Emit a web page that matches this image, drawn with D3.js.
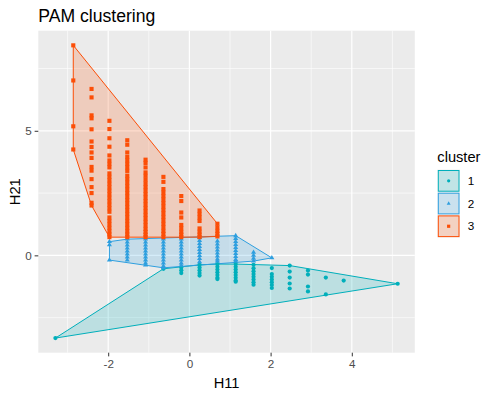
<!DOCTYPE html>
<html>
<head>
<meta charset="utf-8">
<script src="https://cdn.jsdelivr.net/npm/d3@7"></script>
<style>
  body { margin: 0; background: #fff; }
  text { font-family: "Liberation Sans", Arial, sans-serif; }
</style>
</head>
<body>
<script>
// H11 / H21 values, one entry per column of points
var cluster1 = [
    [-3.30, [-3.32]],
    [-0.64, [-0.54]],
    [-0.20, [-0.49, -0.60, -0.71]],
    [0.25, [-0.38, -0.49, -0.60, -0.71, -0.81]],
    [0.69, [-0.35, -0.46, -0.57, -0.68, -0.79, -0.90, -0.95]],
    [1.14, [-0.35, -0.46, -0.57, -0.68, -0.79, -0.90, -1.01, -1.06]],
    [1.58, [-0.38, -0.52, -0.64, -0.75, -0.86, -0.97, -1.08, -1.18]],
    [2.03, [-0.51, -0.75, -0.86, -0.97, -1.08, -1.19, -1.31]],
    [2.47, [-0.41, -0.65, -0.89, -1.13, -1.33]],
    [2.92, [-0.61, -0.77, -1.25, -1.45]],
    [3.36, [-0.89, -1.57]],
    [3.80, [-1.01]],
    [5.13, [-1.14]]
];
var cluster2 = [
    [-1.97, [0.55, 0.42, -0.19]],
    [-1.53, [0.65, 0.53, 0.41, 0.29, 0.17, 0.05, -0.07, -0.19]],
    [-1.08, [0.65, 0.53, 0.41, 0.29, 0.17, 0.05, -0.07, -0.19, -0.31, -0.39]],
    [-0.64, [0.65, 0.53, 0.41, 0.29, 0.17, 0.05, -0.07, -0.19, -0.31, -0.43, -0.50]],
    [-0.20, [0.65, 0.53, 0.41, 0.29, 0.17, 0.05, -0.07, -0.19, -0.31, -0.40]],
    [0.25, [0.71, 0.59, 0.47, 0.35, 0.23, 0.11, -0.01, -0.13, -0.26]],
    [0.69, [0.57, 0.45, 0.33, 0.21, 0.09, -0.03, -0.15, -0.23]],
    [1.14, [0.79, 0.67, 0.55, 0.43, 0.31, 0.19, 0.07, -0.05, -0.17, -0.23]],
    [1.58, [0.12, 0.00, -0.12, -0.23]],
    [2.03, [-0.10]]
];
var cluster3 = [
    [-2.86, [8.43, 7.02, 5.18, 4.25]],
    [-2.41, [6.68, 6.34, 5.62, 5.50, 5.06, 4.57, 4.35, 4.13, 3.91, 3.55, 3.40, 3.06, 2.74, 2.50, 2.11, 2.00]],
    [-1.97, [5.40, 5.07, 4.70, 4.36, 4.01, 3.81, 3.67, 3.53, 3.29, 3.15, 3.01, 2.87, 2.73, 2.59, 2.45, 2.31, 2.17, 2.03, 1.89, 1.75, 1.52, 1.38, 1.24, 1.10, 0.96, 0.84, 0.73]],
    [-1.53, [4.62, 4.44, 4.13, 3.95, 3.81, 3.67, 3.53, 3.39, 3.20, 3.06, 2.92, 2.78, 2.64, 2.50, 2.36, 2.22, 2.08, 1.94, 1.80, 1.66, 1.52, 1.38, 1.24, 1.10, 0.96, 0.84, 0.73]],
    [-1.08, [3.84, 3.71, 3.53, 3.33, 3.19, 3.03, 2.88, 2.74, 2.60, 2.46, 2.32, 2.18, 2.04, 1.90, 1.76, 1.62, 1.48, 1.34, 1.20, 1.06, 0.94, 0.83, 0.73]],
    [-0.64, [3.15, 2.95, 2.66, 2.52, 2.38, 2.24, 2.10, 1.96, 1.82, 1.68, 1.54, 1.40, 1.26, 1.12, 0.98, 0.86, 0.73]],
    [-0.20, [2.38, 2.18, 1.72, 1.52, 1.22, 1.08, 0.94, 0.83, 0.73]],
    [0.25, [1.80, 1.66, 1.52, 1.38, 1.08, 0.95, 0.83, 0.73]],
    [0.69, [1.27, 1.12, 0.98, 0.86, 0.76]]
];
var clusterNames = ["1", "2", "3"];
var xTicks = [-2, 0, 2, 4];
var yTicks = [0, 5];

var colours = ["#00AFBB", "#2E9FDF", "#FC4E07"];
var shapes = [d3.symbolCircle, d3.symbolTriangle, d3.symbolSquare];
var shapeSize = [14, 11, 17];

var width = 493, height = 398;
var panel = {left: 38.3, top: 30.7, right: 414.8, bottom: 352.7};

// flatten columns into points
var groups = [cluster1, cluster2, cluster3].map(function(cols, i) {
    var pts = [];
    cols.forEach(function(c) {
        c[1].forEach(function(v) { pts.push({h11: c[0], h21: v, cluster: i}); });
    });
    return pts;
});
var all = d3.merge(groups);

function expand(ext) {
    var pad = (ext[1] - ext[0]) * 0.05;
    return [ext[0] - pad, ext[1] + pad];
}
var x = d3.scaleLinear().domain(expand(d3.extent(all, function(d) { return d.h11; })))
    .range([panel.left, panel.right]);
var y = d3.scaleLinear().domain(expand(d3.extent(all, function(d) { return d.h21; })))
    .range([panel.bottom, panel.top]);

var svg = d3.select("body").append("svg").attr("width", width).attr("height", height);

svg.append("rect").attr("x", panel.left).attr("y", panel.top)
    .attr("width", panel.right - panel.left).attr("height", panel.bottom - panel.top)
    .attr("fill", "#EBEBEB");

// grid
var xMinor = [-3, -1, 1, 3, 5], yMinor = [-2.5, 2.5, 7.5];
var grid = svg.append("g");
grid.selectAll(".vmin").data(xMinor).enter().append("line")
    .attr("x1", x).attr("x2", x).attr("y1", panel.top).attr("y2", panel.bottom)
    .attr("stroke", "#fff").attr("stroke-width", 0.6);
grid.selectAll(".hmin").data(yMinor).enter().append("line")
    .attr("y1", y).attr("y2", y).attr("x1", panel.left).attr("x2", panel.right)
    .attr("stroke", "#fff").attr("stroke-width", 0.6);
grid.selectAll(".vmaj").data(xTicks).enter().append("line")
    .attr("x1", x).attr("x2", x).attr("y1", panel.top).attr("y2", panel.bottom)
    .attr("stroke", "#fff").attr("stroke-width", 1.2);
grid.selectAll(".hmaj").data(yTicks).enter().append("line")
    .attr("y1", y).attr("y2", y).attr("x1", panel.left).attr("x2", panel.right)
    .attr("stroke", "#fff").attr("stroke-width", 1.2);

// convex hulls
groups.forEach(function(pts, i) {
    var hull = d3.polygonHull(pts.map(function(d) { return [x(d.h11), y(d.h21)]; }));
    svg.append("path").attr("d", "M" + hull.join("L") + "Z")
        .attr("fill", colours[i]).attr("fill-opacity", 0.2)
        .attr("stroke", colours[i]).attr("stroke-width", 1);
});

// points
groups.forEach(function(pts, i) {
    svg.append("g").selectAll("path").data(pts).enter().append("path")
        .attr("d", d3.symbol().type(shapes[i]).size(shapeSize[i]))
        .attr("transform", function(d) { return "translate(" + x(d.h11) + "," + y(d.h21) + ")"; })
        .attr("fill", colours[i]);
});

// axes (plain hyphen for negatives, like R)
var fmt = function(d) { return String(d); };
var xAxis = svg.append("g").attr("transform", "translate(0," + panel.bottom + ")")
    .call(d3.axisBottom(x).tickValues(xTicks).tickFormat(fmt).tickSize(3.67).tickPadding(2.9));
var yAxis = svg.append("g").attr("transform", "translate(" + panel.left + ",0)")
    .call(d3.axisLeft(y).tickValues(yTicks).tickFormat(fmt).tickSize(3.67).tickPadding(2.9));
[xAxis, yAxis].forEach(function(a) {
    a.select(".domain").remove();
    a.selectAll(".tick line").attr("stroke", "#333333").attr("stroke-width", 1);
    a.selectAll(".tick text").attr("fill", "#4D4D4D").style("font-size", "11.7px")
        .style("font-family", "Liberation Sans, Arial, sans-serif");
});

svg.append("text").attr("x", (panel.left + panel.right) / 2).attr("y", 388)
    .attr("text-anchor", "middle").style("font-size", "14.67px").text("H11");
svg.append("text").attr("transform", "translate(19.5," + (panel.top + panel.bottom) / 2 + ") rotate(-90)")
    .attr("text-anchor", "middle").style("font-size", "14.67px").text("H21");
svg.append("text").attr("x", panel.left).attr("y", 21.7)
    .style("font-size", "17.6px").text("PAM clustering");

// legend
var leg = svg.append("g").attr("transform", "translate(437.3,0)");
leg.append("text").attr("x", 0).attr("y", 161.5).style("font-size", "14.67px").text("cluster");
clusterNames.forEach(function(name, i) {
    var top = 169.5 + i * 22.7;
    leg.append("rect").attr("x", 0).attr("y", top).attr("width", 22.7).attr("height", 22.7)
        .attr("fill", "#F2F2F2");
    leg.append("rect").attr("x", 1).attr("y", top + 1).attr("width", 20.7).attr("height", 20.7)
        .attr("fill", colours[i]).attr("fill-opacity", 0.2)
        .attr("stroke", colours[i]).attr("stroke-width", 1);
    leg.append("path").attr("d", d3.symbol().type(shapes[i]).size(shapeSize[i] * 0.6))
        .attr("transform", "translate(11.35," + (top + 11.35) + ")").attr("fill", colours[i]);
    leg.append("text").attr("x", 30.5).attr("y", top + 11.35).attr("dy", "0.35em")
        .style("font-size", "11.7px").text(name);
});
</script>
</body>
</html>
